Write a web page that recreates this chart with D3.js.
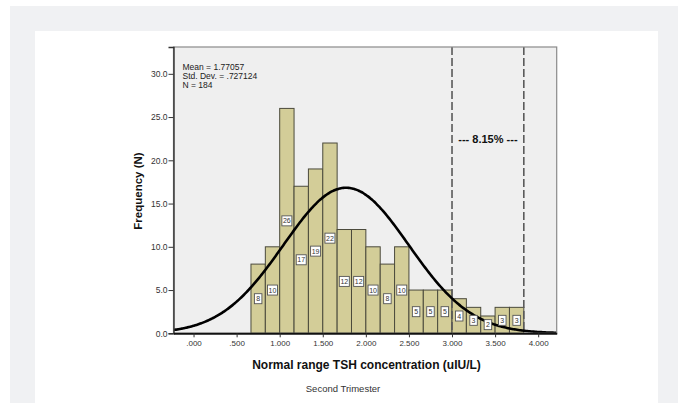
<!DOCTYPE html>
<html>
<head>
<meta charset="utf-8">
<script src="https://cdn.jsdelivr.net/npm/d3@7"></script>
<style>
  html, body { margin: 0; padding: 0; background: #ffffff; }
  svg { display: block; font-family: Arial, "Liberation Sans", sans-serif; }
</style>
</head>
<body>
<svg id="chart" width="686" height="403"></svg>
<script>
// ---- data ----
const binStart = 2 / 3;          // lower edge of first bin
const binWidth = 1 / 6;          // bin width (uIU/L)
const counts = [8, 10, 26, 17, 19, 22, 12, 12, 10, 8, 10, 5, 5, 5, 4, 3, 2, 3, 3];
const yTicks = [0, 5, 10, 15, 20, 25, 30];
const xTicks = [0, 0.5, 1, 1.5, 2, 2.5, 3, 3.5, 4];
const xTickLabels = [".000", ".500", "1.000", "1.500", "2.000", "2.500", "3.000", "3.500", "4.000"];
const statsLines = ["Mean = 1.77057", "Std. Dev. = .727124", "N = 184"];
const meanVal = 1.77057, sdVal = 0.727124, nVal = 184;
const refLines = [3.0, 3.8333];
const refLabel = "--- 8.15% ---";
const xTitle = "Normal range TSH concentration (uIU/L)";
const yTitle = "Frequency (N)";
const caption = "Second Trimester";

// ---- layout ----
const svg = d3.select("#chart");
const plot = { left: 173.5, right: 556.7, top: 47, bottom: 333.3 };

// page backgrounds
svg.append("rect").attr("x", 10).attr("y", 6).attr("width", 668).attr("height", 397).attr("fill", "#f0f1f3");
svg.append("rect").attr("x", 35).attr("y", 31).attr("width", 623).attr("height", 372).attr("fill", "#ffffff");

const x = d3.scaleLinear().domain([-0.2325, 4.215]).range([plot.left, plot.right]);
const y = d3.scaleLinear().domain([0, 33.1]).range([plot.bottom, plot.top]);

// plot background
svg.append("rect").attr("x", plot.left).attr("y", plot.top)
  .attr("width", plot.right - plot.left).attr("height", plot.bottom - plot.top)
  .attr("fill", "#efefef");

// bars
const bars = counts.map((c, i) => ({ c, x0: binStart + i * binWidth, x1: binStart + (i + 1) * binWidth }));
svg.append("g").selectAll("rect").data(bars).join("rect")
  .attr("x", d => x(d.x0))
  .attr("y", d => y(d.c))
  .attr("width", d => x(d.x1) - x(d.x0))
  .attr("height", d => y(0) - y(d.c))
  .attr("fill", "#d3cd98")
  .attr("stroke", "#4b4a3c")
  .attr("stroke-width", 1);

// reference dashed lines
svg.append("g").selectAll("line").data(refLines).join("line")
  .attr("x1", d => x(d)).attr("x2", d => x(d))
  .attr("y1", plot.top).attr("y2", plot.bottom)
  .attr("stroke", "#5a5a5a").attr("stroke-width", 1.6)
  .attr("stroke-dasharray", "8,3");

// normal curve (from the mean / sd / N shown in the chart)
const dens = v => nVal * binWidth / (sdVal * Math.sqrt(2 * Math.PI)) * Math.exp(-0.5 * Math.pow((v - meanVal) / sdVal, 2));
const xs = d3.range(0, 301).map(i => x.domain()[0] + (x.domain()[1] - x.domain()[0]) * i / 300);
svg.append("path")
  .datum(xs)
  .attr("d", d3.line().x(v => x(v)).y(v => y(dens(v))).curve(d3.curveBasis))
  .attr("fill", "none").attr("stroke", "#000").attr("stroke-width", 2.6);

// bar value labels
const lg = svg.append("g").attr("font-size", 7).attr("fill", "#333");
bars.forEach(d => {
  const cx = (x(d.x0) + x(d.x1)) / 2;
  const cy = (y(d.c) + y(0)) / 2;
  const txt = String(d.c);
  const w = txt.length > 1 ? 10 : 7.5;
  const h = 10;
  lg.append("rect").attr("x", cx - w / 2).attr("y", cy - h / 2).attr("width", w).attr("height", h)
    .attr("fill", "#ffffff").attr("stroke", "#555").attr("stroke-width", 0.9);
  lg.append("text").attr("x", cx).attr("y", cy + 2.5).attr("text-anchor", "middle").text(txt);
});

// frame
svg.append("rect").attr("x", plot.left).attr("y", plot.top)
  .attr("width", plot.right - plot.left).attr("height", plot.bottom - plot.top)
  .attr("fill", "none").attr("stroke", "#8a8a8a").attr("stroke-width", 1.2);

// axes
const yAxis = d3.axisLeft(y).tickValues(yTicks).tickFormat(d3.format(".1f")).tickSize(5).tickPadding(1);
const yg = svg.append("g").attr("transform", `translate(${plot.left},0)`).call(yAxis);
yg.select(".domain").attr("stroke", "#333").attr("stroke-width", 1.4);
yg.selectAll(".tick line").attr("stroke", "#333");
yg.selectAll("text").attr("font-size", 8.5).attr("fill", "#333").attr("font-family", "Arial, 'Liberation Sans', sans-serif");

const xAxis = d3.axisBottom(x).tickValues(xTicks).tickFormat((d, i) => xTickLabels[i]).tickSize(4).tickPadding(3).tickSizeOuter(0);
const xg = svg.append("g").attr("transform", `translate(0,${plot.bottom})`).call(xAxis);
xg.select(".domain").attr("stroke", "#111").attr("stroke-width", 2);
xg.selectAll(".tick line").attr("stroke", "#333");
xg.selectAll("text").attr("font-size", 8).attr("fill", "#333").attr("font-family", "Arial, 'Liberation Sans', sans-serif");

// stats text
svg.append("g").selectAll("text").data(statsLines).join("text")
  .attr("x", 182.5).attr("y", (d, i) => 70 + i * 9)
  .attr("font-size", 8.5).attr("fill", "#222").text(d => d);

// ref label
svg.append("text").attr("x", (x(refLines[0]) + x(refLines[1])) / 2).attr("y", 142.5)
  .attr("text-anchor", "middle").attr("font-size", 11).attr("font-weight", "bold").attr("fill", "#111")
  .text(refLabel);

// axis titles
svg.append("text").attr("x", 366.5).attr("y", 369).attr("text-anchor", "middle")
  .attr("font-size", 12).attr("font-weight", "bold").attr("fill", "#111").text(xTitle);
svg.append("text").attr("transform", "translate(141.5,191) rotate(-90)").attr("text-anchor", "middle")
  .attr("font-size", 11.5).attr("font-weight", "bold").attr("fill", "#111").text(yTitle);

// caption
svg.append("text").attr("x", 343).attr("y", 392).attr("text-anchor", "middle")
  .attr("font-size", 9.5).attr("fill", "#333").text(caption);
</script>
</body>
</html>
